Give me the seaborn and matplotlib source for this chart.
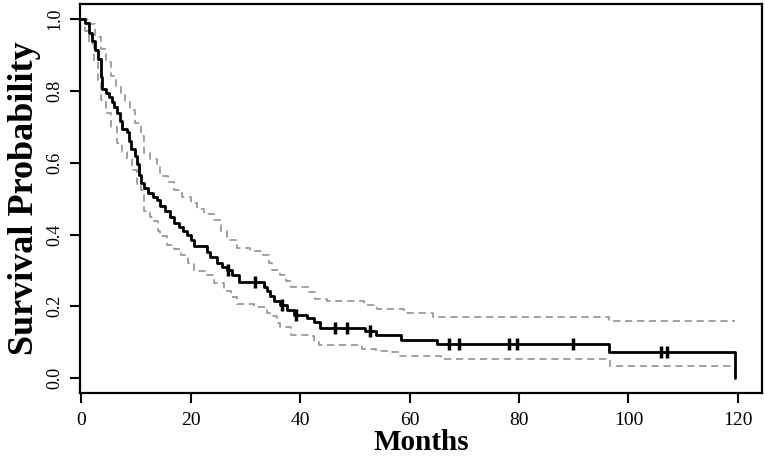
import numpy as np
import pandas as pd
import seaborn as sns
import matplotlib
matplotlib.use("Agg")
import matplotlib.pyplot as plt

# Kaplan-Meier estimate (step times and survival after each step)
km_time = [0.0, 0.8, 1.4, 2.0, 2.6, 3.1, 3.6, 3.9, 4.6, 5.1, 5.6, 6.1, 6.6, 7.1,
           7.5, 8.3, 8.8, 9.2, 9.8, 10.3, 10.6, 10.9, 11.5, 12.2, 13.2, 13.9,
           14.5, 15.3, 16.2, 17.0, 17.8, 18.6, 19.4, 20.0, 20.6, 23.0, 23.6,
           24.9, 25.8, 26.7, 27.6, 28.8, 33.4, 34.0, 34.6, 35.3, 36.4, 37.6,
           38.9, 41.3, 42.5, 43.7, 51.8, 53.8, 58.4, 65.0, 96.5, 119.5]
km_surv = [1.0, 0.99, 0.962, 0.94, 0.915, 0.89, 0.84, 0.805, 0.795, 0.783,
           0.768, 0.755, 0.739, 0.715, 0.695, 0.685, 0.66, 0.637, 0.62, 0.595,
           0.565, 0.544, 0.53, 0.515, 0.505, 0.495, 0.479, 0.465, 0.45, 0.432,
           0.42, 0.41, 0.40, 0.385, 0.367, 0.352, 0.338, 0.321, 0.31, 0.302,
           0.287, 0.269, 0.255, 0.242, 0.228, 0.214, 0.204, 0.19, 0.177, 0.167,
           0.155, 0.141, 0.13, 0.12, 0.107, 0.096, 0.0725, 0.0]

# censored observations
censor_time = [26.9, 31.8, 36.7, 39.3, 46.4, 48.6, 52.7, 67.2, 69.0, 78.1,
               79.7, 89.8, 106.0, 107.0]

# 95% confidence limits
upper_time = [0.0, 1.0, 1.7, 2.5, 3.6, 4.5, 5.4, 6.3, 7.2, 8.1, 9.0, 9.9, 10.9,
              11.5, 12.5, 13.9, 14.5, 15.8, 17.0, 18.5, 20.0, 21.2, 22.4, 24.3,
              25.5, 26.7, 28.5, 30.9, 33.3, 34.3, 34.9, 36.4, 37.5, 38.3, 41.6,
              42.8, 45.0, 51.7, 54.1, 59.0, 64.3, 96.4, 119.5]
upper_surv = [1.0, 0.995, 0.985, 0.95, 0.916, 0.88, 0.841, 0.815, 0.795, 0.77,
              0.748, 0.71, 0.674, 0.628, 0.61, 0.59, 0.562, 0.545, 0.525, 0.505,
              0.488, 0.47, 0.456, 0.44, 0.41, 0.386, 0.363, 0.355, 0.344, 0.32,
              0.302, 0.286, 0.27, 0.254, 0.24, 0.221, 0.214, 0.204, 0.193, 0.181,
              0.169, 0.16, 0.16]

lower_time = [0.0, 0.8, 1.5, 2.3, 3.0, 3.6, 4.5, 5.5, 6.6, 7.5, 8.4, 9.35, 10.3,
              10.9, 11.5, 12.5, 13.3, 14.0, 14.5, 15.7, 17.0, 18.2, 19.5, 20.6,
              23.0, 24.3, 26.1, 27.3, 28.5, 31.6, 34.0, 34.6, 35.8, 36.4, 38.3,
              41.6, 42.5, 43.4, 51.4, 53.8, 56.0, 58.0, 65.8, 96.6, 119.5]
lower_surv = [1.0, 0.967, 0.93, 0.883, 0.83, 0.776, 0.739, 0.70, 0.655, 0.63,
              0.609, 0.581, 0.534, 0.525, 0.465, 0.45, 0.437, 0.41, 0.397, 0.372,
              0.36, 0.344, 0.32, 0.297, 0.288, 0.265, 0.242, 0.225, 0.206, 0.198,
              0.181, 0.172, 0.153, 0.142, 0.121, 0.118, 0.10, 0.091, 0.081,
              0.0755, 0.072, 0.063, 0.053, 0.034, 0.034]

x_ticks = [0, 20, 40, 60, 80, 100, 120]
y_ticks = [0.0, 0.2, 0.4, 0.6, 0.8, 1.0]

sns.set_style("ticks")
plt.rcParams["font.family"] = ["Liberation Serif", "DejaVu Serif"]
plt.rcParams["text.color"] = "black"
plt.rcParams["axes.labelcolor"] = "black"

fig = plt.figure(figsize=(7.65, 4.59), dpi=100)
ax = fig.add_axes([80 / 765, 1 - 392.5 / 459, 682 / 765, 388.5 / 459])

band_style = dict(color="#9a9a9a", linewidth=1.3, dashes=(4, 2.6))
sns.lineplot(x=upper_time, y=upper_surv, drawstyle="steps-post", sort=False,
             estimator=None, ax=ax, **band_style)
sns.lineplot(x=lower_time, y=lower_surv, drawstyle="steps-post", sort=False,
             estimator=None, ax=ax, **band_style)
sns.lineplot(x=km_time, y=km_surv, drawstyle="steps-post", sort=False,
             estimator=None, ax=ax, color="black", linewidth=2.0)

# censor marks sit on the KM step value at that time
idx = np.searchsorted(km_time, censor_time, side="right") - 1
censor_surv = np.array(km_surv)[idx]
ax.plot(censor_time, censor_surv, linestyle="none", marker="|",
        markersize=8, markeredgewidth=2.5, color="black")

ax.set_xlim(-0.2, 124.4)
ax.set_ylim(-0.04, 1.042)
ax.set_xticks(x_ticks)
ax.set_yticks(y_ticks)
ax.set_xticklabels([str(v) for v in x_ticks], fontsize=14)
ax.set_yticklabels([f"{v:.1f}" for v in y_ticks], fontsize=13, rotation=90,
                   va="center")
ax.tick_params(axis="both", direction="out", length=7, width=1.5,
               colors="black", labelcolor="black")
ax.tick_params(axis="x", pad=7)
ax.tick_params(axis="y", pad=5)
for s in ax.spines.values():
    s.set_visible(True)
    s.set_linewidth(1.6)
    s.set_color("black")

ax.set_xlabel("Months", fontsize=21, fontweight="bold", labelpad=0)
ax.set_ylabel("Survival Probability", fontsize=26, fontweight="bold", labelpad=4)

fig.savefig("out.png", dpi=100)
